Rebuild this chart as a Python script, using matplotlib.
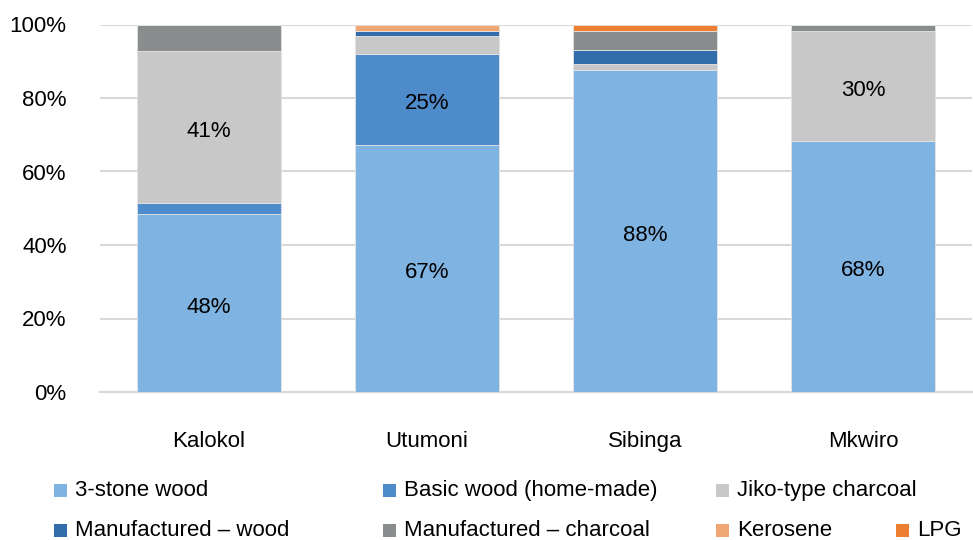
import numpy as np
import matplotlib.pyplot as plt
from matplotlib.patches import Rectangle

plt.rcParams['font.family'] = ['Liberation Sans', 'DejaVu Sans']

# Data (share of households, %)
sites = ['Kalokol', 'Utumoni', 'Sibinga', 'Mkwiro']
stoves = ['3-stone wood', 'Basic wood (home-made)', 'Jiko-type charcoal',
          'Manufactured \u2013 wood', 'Manufactured \u2013 charcoal', 'Kerosene', 'LPG']
three_stone = [48.4, 67.3, 87.6, 68.4]
basic_wood = [3.0, 24.6, 0.0, 0.0]
jiko = [41.4, 4.9, 1.6, 29.8]
manuf_wood = [0.0, 1.4, 3.8, 0.0]
manuf_charcoal = [7.2, 0.0, 5.2, 1.8]
kerosene = [0.0, 1.8, 0.0, 0.0]
lpg = [0.0, 0.0, 1.8, 0.0]
series = [three_stone, basic_wood, jiko, manuf_wood, manuf_charcoal, kerosene, lpg]
colors = ['#7fb3e2', '#4e8bca', '#c8c8c8', '#306daa', '#8a8d8e', '#f1a773', '#ec7f32']

fs = 16
fig = plt.figure(figsize=(9.73, 5.4), dpi=100)
ax = fig.add_axes([100 / 973, 1 - 392 / 540, 872 / 973, (392 - 24.5) / 540])

x = np.arange(len(sites))
bottom = np.zeros(len(sites))
for vals, c in zip(series, colors):
    vals = np.array(vals)
    ax.bar(x, vals, 0.656, bottom=bottom, color=c, edgecolor='#e4e4e4', linewidth=0.6, zorder=3)
    for xi, b, v in zip(x, bottom, vals):
        if v >= 20:
            # only the big segments carry a label
            ax.annotate(f'{v:.0f}%', (xi, b + v / 2), xytext=(0, -3), textcoords='offset points',
                        ha='center', va='center', fontsize=fs, color='black', zorder=4)
    bottom += vals

ax.set_xlim(-0.5, 3.5)
ax.set_ylim(0, 100)
ax.set_yticks(np.arange(0, 101, 20))
ax.set_yticklabels([f'{v}%' for v in range(0, 101, 20)], fontsize=fs)
ax.set_xticks(x)
ax.set_xticklabels(sites, fontsize=fs)
ax.tick_params(axis='both', length=0)
ax.tick_params(axis='x', pad=28)
ax.tick_params(axis='y', pad=24)
ax.grid(axis='y', color='#d9d9d9', linewidth=1.5, zorder=0)
for s in ['top', 'right', 'left']:
    ax.spines[s].set_visible(False)
ax.spines['bottom'].set_color('#d9d9d9')
ax.spines['bottom'].set_linewidth(1.5)

# legend laid out in two rows like the original
layout = [(0, 54, 490.5), (1, 383, 490.5), (2, 716, 490.5),
          (3, 54, 530), (4, 383, 530), (5, 716, 530), (6, 896, 530)]
for i, px, py in layout:
    fig.patches.append(Rectangle((px / 973, (540 - py - 6.5) / 540), 13 / 973, 13 / 540,
                                 transform=fig.transFigure, facecolor=colors[i], edgecolor='none'))
    fig.text((px + 21) / 973, (540 - py) / 540, stoves[i], fontsize=fs, va='center', ha='left')

fig.savefig('out.png', dpi=100)
